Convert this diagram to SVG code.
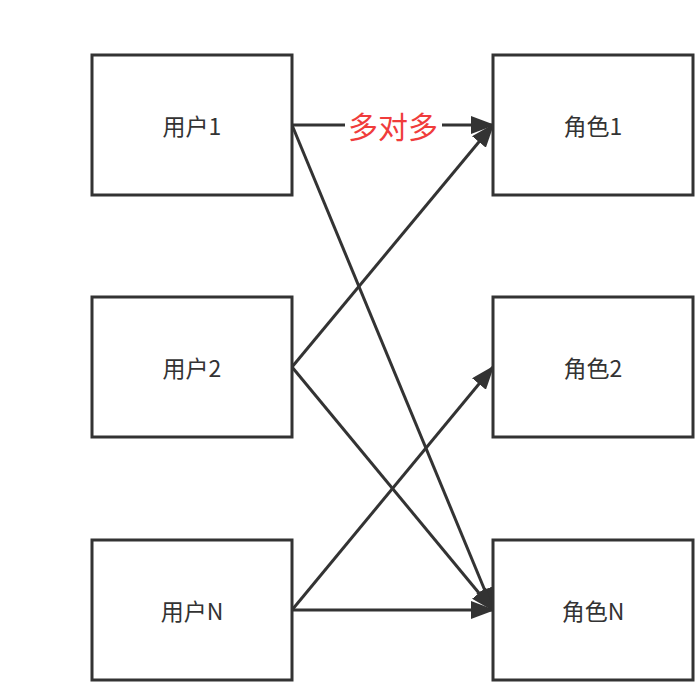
<svg xmlns="http://www.w3.org/2000/svg" width="695" height="689" viewBox="0 0 695 689">
<style>
.box{fill:#fff;stroke:#333;stroke-width:3}
.lbl{font-family:"Noto Sans CJK SC","Liberation Sans",sans-serif;font-size:23px;fill:#333;text-anchor:middle;dominant-baseline:central}
.edge{stroke:#333;stroke-width:3;fill:none;marker-end:url(#arr)}
.elbl{font-family:"Noto Sans CJK SC","Liberation Sans",sans-serif;font-size:30px;fill:#f03c3c;text-anchor:middle;dominant-baseline:central}
</style>
<defs>
<marker id="arr" viewBox="0 0 24 18" refX="22" refY="9" markerWidth="24" markerHeight="18" orient="auto" markerUnits="userSpaceOnUse">
<path d="M0,0 L24,9 L0,18 Z" fill="#333"/>
</marker>
</defs>
<rect width="695" height="689" fill="#fff"/>
<g id="edges">
<line class="edge" x1="292" y1="125" x2="493" y2="125"/>
<line class="edge" x1="292" y1="125" x2="493" y2="610"/>
<line class="edge" x1="292" y1="367" x2="493" y2="125"/>
<line class="edge" x1="292" y1="367" x2="493" y2="610"/>
<line class="edge" x1="292" y1="610" x2="493" y2="367"/>
<line class="edge" x1="292" y1="610" x2="493" y2="610"/>
<rect x="345" y="109" width="97" height="32" fill="#fff"/>
<text class="elbl" x="393" y="125">多对多</text>
</g>
<g id="user1"><rect class="box" x="92" y="55" width="200" height="140"/><text class="lbl" x="192" y="125">用户1</text></g>
<g id="user2"><rect class="box" x="92" y="297" width="200" height="140"/><text class="lbl" x="192" y="367">用户2</text></g>
<g id="userN"><rect class="box" x="92" y="540" width="200" height="140"/><text class="lbl" x="192" y="610">用户N</text></g>
<g id="role1"><rect class="box" x="493" y="55" width="200" height="140"/><text class="lbl" x="593" y="125">角色1</text></g>
<g id="role2"><rect class="box" x="493" y="297" width="200" height="140"/><text class="lbl" x="593" y="367">角色2</text></g>
<g id="roleN"><rect class="box" x="493" y="540" width="200" height="140"/><text class="lbl" x="593" y="610">角色N</text></g>
</svg>
